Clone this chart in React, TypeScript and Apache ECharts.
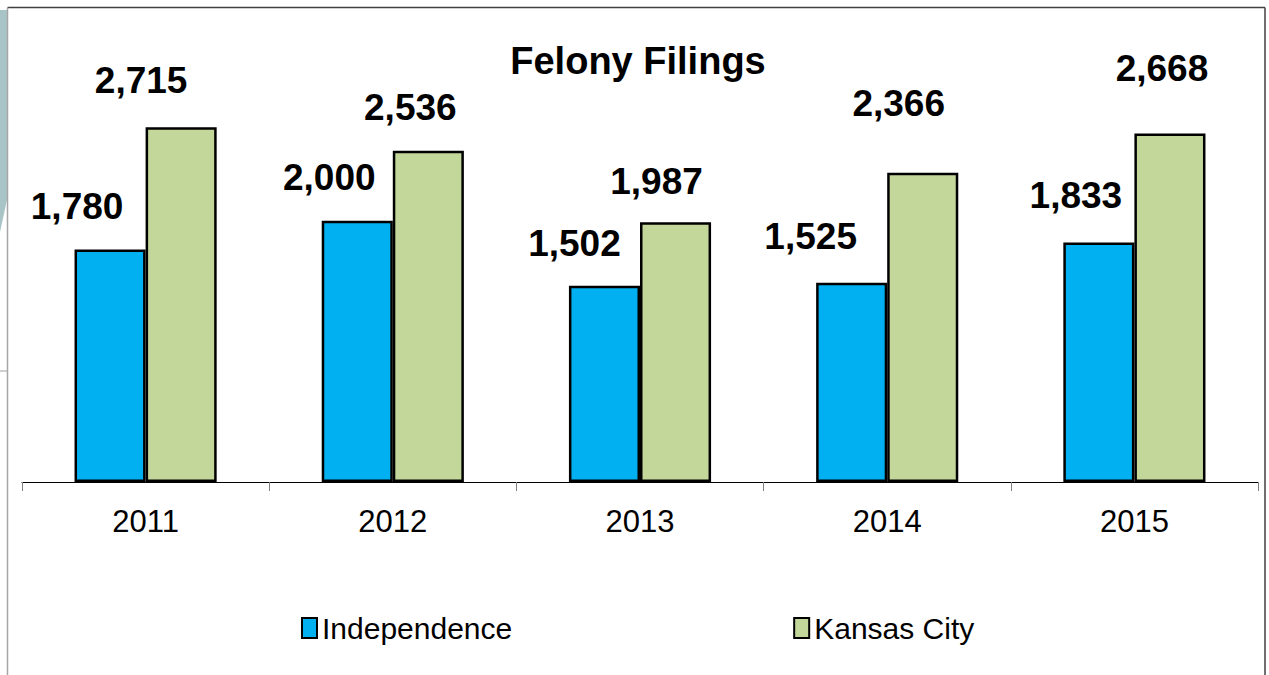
import React, { useEffect, useRef } from "react";
import * as echarts from "echarts";

const YEARS = ["2011", "2012", "2013", "2014", "2015"];
const INDEPENDENCE = [1780, 2000, 1502, 1525, 1833];
const KANSAS_CITY = [2715, 2536, 1987, 2366, 2668];
const SERIES_NAMES = ["Independence", "Kansas City"];
const TITLE = "Felony Filings";

// label nudges (style only): [dx, center distance above bar top]
const NUDGE_IND = [[-33, 43], [-28, 44], [-30, 43], [-41, 47], [-23, 47]];
const NUDGE_KC = [[-40, 47], [-18, 44], [-19, 41], [-24, 70], [-8, 65]];

const FONT = "'Liberation Sans', Arial, Helvetica, sans-serif";

function fmt(v: number) {
  return v.toString().replace(/\B(?=(\d{3})+(?!\d))/g, ",");
}

function buildData(values: number[], nudges: number[][]) {
  return values.map((v, i) => ({
    value: v,
    label: { offset: [nudges[i][0], -(nudges[i][1] - 19)] },
  }));
}

export default function App() {
  const ref = useRef<HTMLDivElement>(null);
  useEffect(() => {
    if (!ref.current) return;
    const chart = echarts.init(ref.current, undefined, { renderer: "svg" });
    const labelStyle = {
      show: true,
      position: "top",
      distance: 0,
      fontSize: 37,
      fontWeight: "bold",
      fontFamily: FONT,
      color: "#000",
      formatter: (p: any) => fmt(p.value),
    };
    chart.setOption({
      animation: false,
      backgroundColor: "#fff",
      title: {
        text: TITLE,
        left: 633,
        textAlign: "center",
        top: 37,
        textStyle: { fontSize: 38, fontWeight: "bold", fontFamily: FONT, color: "#000" },
      },
      legend: {
        left: 296,
        top: 608,
        itemWidth: 15,
        itemHeight: 20,
        itemGap: 281,
        icon: "rect",
        itemStyle: { borderColor: "#000", borderWidth: 2 },
        textStyle: { fontSize: 30, fontFamily: FONT, color: "#000", padding: [0, 0, 0, 0] },
        data: SERIES_NAMES,
      },
      grid: { left: 22, right: 11, top: 90, bottom: 193 },
      xAxis: {
        type: "category",
        data: YEARS,
        axisLine: { show: true, lineStyle: { color: "#000", width: 1 } },
        axisTick: { show: true, length: 9, lineStyle: { color: "#808080" } },
        axisLabel: { fontSize: 31, fontFamily: FONT, color: "#000", margin: 24 },
      },
      yAxis: {
        type: "value",
        min: 0,
        max: 3000,
        show: false,
        splitLine: { show: false },
      },
      series: [
        {
          name: SERIES_NAMES[0],
          type: "bar",
          data: buildData(INDEPENDENCE, NUDGE_IND),
          barCategoryGap: "42.5%",
          barGap: "0%",
          itemStyle: { color: "#00B0F0", borderColor: "#000", borderWidth: 2.5 },
          label: labelStyle,
        },
        {
          name: SERIES_NAMES[1],
          type: "bar",
          data: buildData(KANSAS_CITY, NUDGE_KC),
          barCategoryGap: "42.5%",
          barGap: "0%",
          itemStyle: { color: "#C4D79B", borderColor: "#000", borderWidth: 2.5 },
          label: labelStyle,
        },
      ],
      graphic: [
        {
          type: "polygon",
          shape: { points: [[0, 10], [7, 10], [7, 200], [0, 232]] },
          style: { fill: "#A9C4C6" },
          silent: true,
        },
        {
          type: "line",
          shape: { x1: 0, y1: 371, x2: 7, y2: 371 },
          style: { stroke: "#d0d0d0", lineWidth: 2 },
          silent: true,
        },
        {
          type: "line",
          shape: { x1: 7.5, y1: 7.5, x2: 1265, y2: 7.5 },
          style: { stroke: "#404040", lineWidth: 1.5 },
          silent: true,
        },
        {
          type: "line",
          shape: { x1: 1265, y1: 7.5, x2: 1265, y2: 675 },
          style: { stroke: "#404040", lineWidth: 1.5 },
          silent: true,
        },
        {
          type: "line",
          shape: { x1: 7.5, y1: 7.5, x2: 7.5, y2: 675 },
          style: { stroke: "#a6a6a6", lineWidth: 1.5 },
          silent: true,
        },
      ],
    });
    return () => chart.dispose();
  }, []);
  return (
    <div
      ref={ref}
      style={{ position: "fixed", left: 0, top: 0, width: 1269, height: 675 }}
    />
  );
}
